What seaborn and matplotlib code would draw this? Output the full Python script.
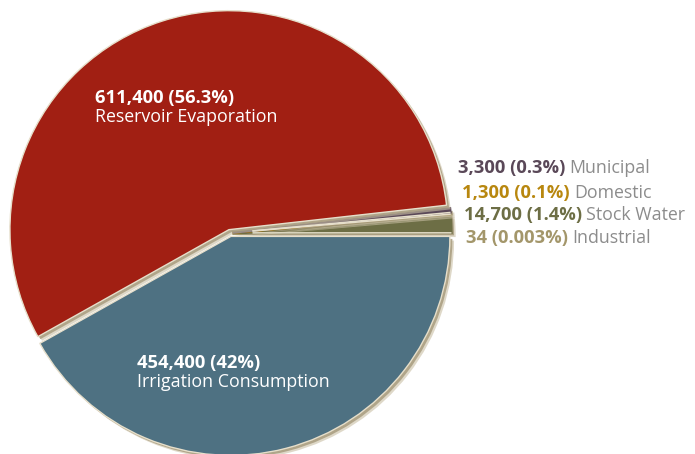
import matplotlib
matplotlib.use("Agg")
import numpy as np
import matplotlib.pyplot as plt
import matplotlib.patheffects as pe
import seaborn as sns

sns.set_theme(style="white")
plt.rcParams["font.family"] = ["Open Sans", "DejaVu Sans"]

# Water consumption by use (acre-feet), counter-clockwise from 3 o'clock
uses = ["Industrial", "Stock Water", "Domestic", "Municipal",
        "Reservoir Evaporation", "Irrigation Consumption"]
volumes = [34, 14700, 1300, 3300, 611400, 454400]
volume_labels = ["34", "14,700", "1,300", "3,300", "611,400", "454,400"]
pct_labels = ["0.003%", "1.4%", "0.1%", "0.3%", "56.3%", "42%"]
colors = ["#a3966a", "#6d6e45", "#b8870f", "#5a4858", "#a11f13", "#4e7182"]
explode = [2.5, 2.5, 2.5, 2.5, 3.5, 3.5]  # offsets in data units (pixels)

fig = plt.figure(figsize=(6.95, 4.54), dpi=100)
ax = fig.add_axes([0, 0, 1, 1])

wedges, _ = ax.pie(volumes, colors=colors, startangle=0, counterclock=True,
                   explode=explode, center=(230, 221), radius=219,
                   wedgeprops=dict(edgecolor="#e6dfcb", linewidth=1.0))
ax.set_xlim(0, 695)
ax.set_ylim(0, 454)
ax.set_aspect("equal")

# soft beige drop shadow under every slice
shadow = [pe.SimplePatchShadow(offset=(3.0, -3.0), shadow_rgbFace="#c9bfa4", alpha=0.6),
          pe.SimplePatchShadow(offset=(1.8, -1.8), shadow_rgbFace="#a89c7e", alpha=0.85),
          pe.Normal()]
for w in wedges:
    w.set_path_effects(shadow)
# thin slices get an outline in their own colour so they stay visible
for w, c, lw in zip(wedges[:4], colors[:4], [2.4, 1.6, 1.6, 1.6]):
    w.set_edgecolor(c)
    w.set_linewidth(lw)
# pale separators between the thin slices
for w in wedges[1:4]:
    cx, cy = w.center
    t = np.deg2rad(w.theta1)
    ax.plot([cx + 20 * np.cos(t), cx + w.r * np.cos(t)],
            [cy + 20 * np.sin(t), cy + w.r * np.sin(t)],
            color="#e6dfcb", lw=1.1, solid_capstyle="butt", zorder=w.get_zorder() + 0.5)

grey = "#8c8c8c"
fs_bold = 13.2
fs_reg = 12.8

# labels on the two large slices
ax.text(95, 454 - 98, f"{volume_labels[4]} ({pct_labels[4]})", color="white",
        fontsize=fs_bold, fontweight="bold", va="center", ha="left")
ax.text(95, 454 - 117, uses[4], color="white", fontsize=fs_reg, va="center", ha="left")
ax.text(137, 454 - 363, f"{volume_labels[5]} ({pct_labels[5]})", color="white",
        fontsize=fs_bold, fontweight="bold", va="center", ha="left")
ax.text(137, 454 - 382, uses[5], color="white", fontsize=fs_reg, va="center", ha="left")

# labels for the small slices on the right
right_pos = {3: (458, 168), 2: (462, 193), 1: (464, 215), 0: (466, 238)}
for i, (x, y) in right_pos.items():
    t = ax.text(x, 454 - y, f"{volume_labels[i]} ({pct_labels[i]})", color=colors[i],
                fontsize=fs_bold, fontweight="bold", va="center", ha="left")
    ax.annotate(uses[i], xy=(1, 0.5), xycoords=t, xytext=(3, 0),
                textcoords="offset points", color=grey, fontsize=fs_reg,
                va="center", ha="left")

ax.axis("off")
fig.savefig("out.png", dpi=100)
